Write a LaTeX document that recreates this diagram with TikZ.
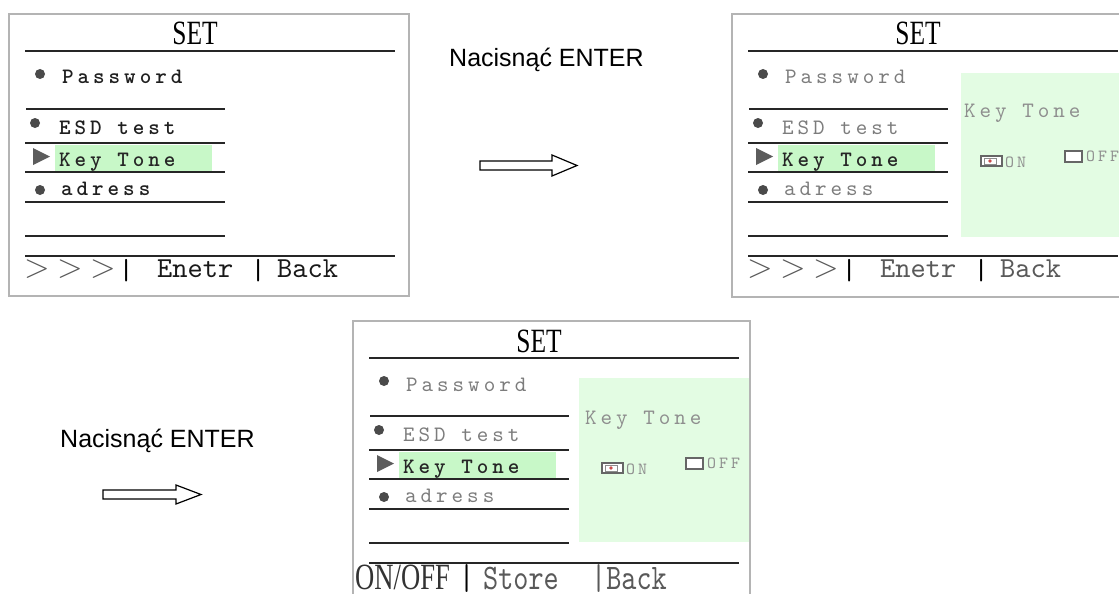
\documentclass[tikz,border=0pt]{standalone}
\usepackage{fontspec}
\usepackage{graphicx}
\setmainfont{Liberation Serif}
\newfontfamily\arialfont{Liberation Sans}
\newfontfamily\lcdtt{lmmono10-regular}[Extension=.otf]
\newfontfamily\menutt{lmmono10-regular}[Extension=.otf, LetterSpace=18]
\newfontfamily\menuttb{lmmonolt10-bold}[Extension=.otf, LetterSpace=18]
\newfontfamily\lcdserif{Liberation Serif}
\definecolor{framegray}{HTML}{B4B4B4}
\definecolor{hlgreen}{HTML}{C8F8C8}
\definecolor{boxgreen}{HTML}{E3FCE3}
\definecolor{bulletc}{HTML}{4A4A4A}
\definecolor{menugray}{HTML}{7C7C7C}
\definecolor{softgray}{HTML}{8E8E8E}
\tikzset{
  frame/.style={draw=framegray, line width=1.6pt},
  rule/.style={draw=black!85, line width=1.3pt},
  bullet/.style={fill=bulletc},
  hl/.style={fill=hlgreen},
  gbox/.style={fill=boxgreen},
  tri/.style={fill=bulletc!90},
  menutext/.style={anchor=base west, inner sep=0pt, font={\menutt\fontsize{22pt}{22pt}\selectfont}},
  menubold/.style={anchor=base west, inner sep=0pt, font={\menuttb\fontsize{22pt}{22pt}\selectfont}},
  smalltext/.style={anchor=base west, inner sep=0pt, text=softgray, font={\menutt\fontsize{17pt}{17pt}\selectfont}},
  settitle/.style={anchor=base, inner sep=0pt, font={\lcdserif\fontsize{34pt}{34pt}\selectfont}},
  lcdlabel/.style={anchor=base west, inner sep=0pt, font={\lcdtt\fontsize{29pt}{29pt}\selectfont}},
  biglabel/.style={anchor=base west, inner sep=0pt, font={\lcdtt\fontsize{36pt}{36pt}\selectfont}},
  serlabel/.style={anchor=base west, inner sep=0pt, font={\lcdserif\fontsize{37pt}{37pt}\selectfont}},
  chev/.style={anchor=base west, inner sep=0pt, text=black!65, font={\fontsize{24.88pt}{26pt}\selectfont}},
  arialtext/.style={anchor=west, inner sep=0pt, font={\arialfont\fontsize{25pt}{25pt}\selectfont}},
  blockarrow/.style={draw=black, line width=1.2pt, fill=white, line join=miter},
  cbox/.style={draw=black!60, line width=1.2pt, fill=white}
}
% #1 = style of the plain menu items, #2 = their colour
\newcommand\menuscreen[2]{%
  \node[settitle] (title) at (186,31) {\scalebox{0.75}[1]{SET}};
  \draw[rule] (16,37) -- (386,37);
  \fill[bullet] (31,60) circle (5);
  \node[#1, text=#2] (pw) at (53,70) {Password};
  \draw[rule] (17,95) -- (216,95);
  \fill[bullet] (26,109) circle (5);
  \node[#1, text=#2] (esd) at (50,120) {ESD test};
  \draw[rule] (16,129) -- (216,129);
  \fill[hl] (46,131) rectangle (203,157);
  \fill[tri] (24,134) -- (24,151) -- (41,142.5) -- cycle;
  \node[menubold, text=black!85] (kt) at (50,152) {Key Tone};
  \draw[rule] (16,158) -- (216,158);
  \fill[bullet] (31,176) circle (5);
  \node[#1, text=#2] (ad) at (52,181) {adress};
  \draw[rule] (16,188) -- (216,188);
  \draw[rule] (16,222) -- (216,222);
  \draw[rule] (16,242) -- (386,242);
}
\newcommand\tonebox{%
  \node[menutext, text=softgray] (kt2) at (232,103) {Key Tone};
  \draw[cbox] (249,142) rectangle (270,152);
  \draw[black!45, line width=0.8pt] (252,144) rectangle (264,150);
  \fill[red!70!black!70] (258,147) circle (1.8);
  \node[smalltext] (on) at (273,153) {ON};
  \draw[cbox] (333,137) rectangle (350,148);
  \node[smalltext] (off) at (354,147) {OFF};
}
\newcommand\chevrons{\scalebox{1.35}{$>\mkern4mu>\mkern4mu>$}}
\begin{document}
\begin{tikzpicture}[x=1pt,y=-1pt]
\useasboundingbox (0,0) rectangle (1119,594);
\clip (0,0) rectangle (1119,594);

% panel 1
\begin{scope}[shift={(9,14)}, name prefix=p1-]
  \draw[frame] (0,0) rectangle (400,282);
  \menuscreen{menubold}{black!88}
  \node[chev] (chev) at (15,263) {\chevrons};
  \node[lcdlabel] (bar1) at (109.5,265) {|};
  \node[lcdlabel, text=black!90] (enter) at (148,263) {Enetr};
  \node[lcdlabel] (bar2) at (241.5,265) {|};
  \node[lcdlabel, text=black!90] (back) at (268,263) {Back};
\end{scope}

% panel 2
\begin{scope}[shift={(732,14)}, name prefix=p2-]
  \fill[gbox] (229,59) rectangle (400,223);
  \draw[frame] (0,0) rectangle (430,283);
  \menuscreen{menutext}{menugray}
  \tonebox
  \node[chev] (chev) at (15,263) {\chevrons};
  \node[lcdlabel] (bar1) at (109.5,265) {|};
  \node[lcdlabel, text=black!65] (enter) at (148,263) {Enetr};
  \node[lcdlabel] (bar2) at (241.5,265) {|};
  \node[lcdlabel, text=black!65] (back) at (268,263) {Back};
\end{scope}

% panel 3
\begin{scope}[shift={(353,321)}, name prefix=p3-]
  \fill[gbox] (226,57) rectangle (397,221);
  \draw[frame] (0,0) rectangle (397,300);
  \menuscreen{menutext}{menugray}
  \tonebox
  \node[serlabel, text=black!80] (onoff) at (2,268) {\scalebox{0.72}[1]{ON/OFF}};
  \node[biglabel] (bar1) at (106,268) {\scalebox{0.8}[1]{|}};
  \node[biglabel, text=black!65] (store) at (130,268) {\scalebox{0.8}[1]{Store}};
  \node[biglabel, text=black!65] (back) at (238,268) {\scalebox{0.8}[1]{|Back}};
\end{scope}

% instructions and arrows
\node[arialtext] (t1) at (449,60) {Nacisnąć ENTER};
\draw[blockarrow] (480,161) -- (552,161) -- (552,155) -- (577,165.5) -- (552,176) -- (552,170) -- (480,170) -- cycle;
\node[arialtext] (t2) at (60,441) {Nacisnąć ENTER};
\draw[blockarrow] (103,490) -- (176,490) -- (176,485) -- (201,494.5) -- (176,504) -- (176,499) -- (103,499) -- cycle;
\end{tikzpicture}
\end{document}
